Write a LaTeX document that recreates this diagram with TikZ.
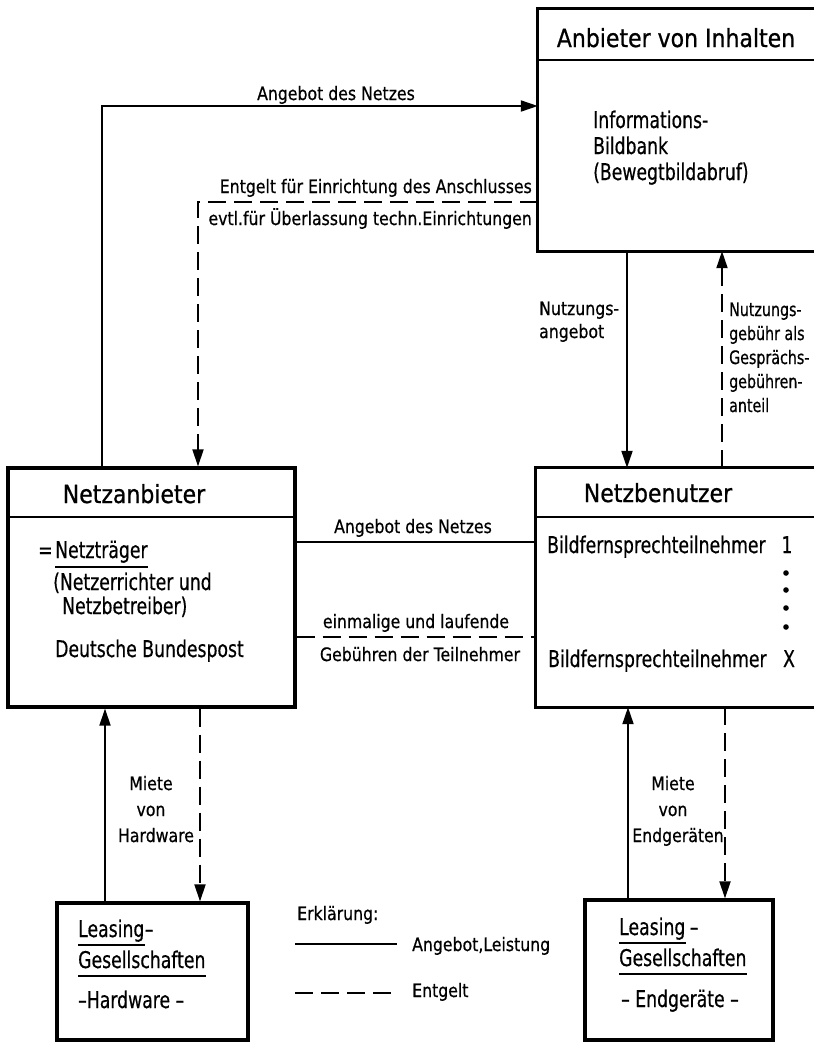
\documentclass[tikz,border=0pt]{standalone}
\usepackage{fontspec}
\setmainfont{DejaVu Sans}
\newfontfamily\titlefont{DejaVu Sans}[FakeStretch=0.88,FakeBold=0.8]
\newfontfamily\bodyfont{DejaVu Sans}[FakeStretch=0.75,FakeBold=0.5]
\newfontfamily\labelfont{DejaVu Sans}[FakeStretch=0.85,FakeBold=0.6]
\newfontfamily\narrowfont{DejaVu Sans}[FakeStretch=0.77,FakeBold=0.6]
\usetikzlibrary{arrows.meta}

\begin{document}
\begin{tikzpicture}[x=1pt,y=-1pt,
  box/.style={draw,line width=3.2pt,rectangle,inner sep=0pt},
  openbox/.style={rectangle,inner sep=0pt},
  boxline/.style={line width=3.2pt},
  rule/.style={line width=2.4pt},
  offer/.style={line width=1.9pt},
  pay/.style={line width=1.9pt,dash pattern=on 18pt off 8pt},
  tip/.style={-{Triangle[length=17pt,width=11pt]}},
  ul/.style={line width=1.8pt},
  ttl/.style={font=\titlefont\fontsize{25}{30}\selectfont,inner sep=0pt,anchor=base},
  txt/.style={font=\bodyfont\fontsize{23}{28}\selectfont,inner sep=0pt,anchor=base west},
  lbl/.style={font=\labelfont\fontsize{18.5}{22}\selectfont,inner sep=0pt,anchor=base},
  nlbl/.style={font=\narrowfont\fontsize{18.5}{22}\selectfont,inner sep=0pt,anchor=base west},
]
\useasboundingbox (0,0) rectangle (814,1042);
\clip (0,0) rectangle (814,1042);

% ---------- boxes (the right-hand column runs off the sheet) ----------
\node[openbox,minimum width=292pt,minimum height=242pt] (inh)  at (684,130)   {};
\node[box,minimum width=287pt,minimum height=239pt]     (anb)  at (151.5,587.5) {};
\node[openbox,minimum width=294pt,minimum height=239pt] (nutz) at (683,587.5) {};
\node[box,minimum width=191pt,minimum height=137pt]     (lh)   at (152.5,971.5) {};
\node[box,minimum width=188pt,minimum height=140pt]     (le)   at (679,970)   {};
\draw[boxline] (inh.north east) -- (inh.north west) -- (inh.south west) -- (inh.south east);
\draw[boxline] (nutz.north east) -- (nutz.north west) -- (nutz.south west) -- (nutz.south east);

% header rules
\coordinate (yInhDiv) at (0,60);
\coordinate (yMidDiv) at (0,517);
\draw[rule] (inh.west |- yInhDiv) -- (inh.east |- yInhDiv);
\draw[rule] (anb.west |- yMidDiv) -- (anb.east |- yMidDiv);
\draw[rule] (nutz.west |- yMidDiv) -- (nutz.east |- yMidDiv);

% ---------- routing points ----------
\coordinate (cTopOffer) at (102,106);
\coordinate (cTopPay)   at (198,202);
\coordinate (xUseOffer) at (627,0);
\coordinate (xUsePay)   at (722,0);
\coordinate (yMidOffer) at (0,542);
\coordinate (yMidPay)   at (0,637);
\coordinate (xHwOffer)  at (105,0);
\coordinate (xHwPay)    at (200,0);
\coordinate (xEgOffer)  at (628,0);
\coordinate (xEgPay)    at (725,0);

% ---------- connectors ----------
\draw[offer,tip] (cTopOffer |- anb.north) -- (cTopOffer) -- (cTopOffer -| inh.west);
\draw[pay,tip]   (cTopPay -| inh.west) -- (cTopPay) -- (cTopPay |- anb.north);
\draw[offer,tip] (xUseOffer |- inh.south) -- (xUseOffer |- nutz.north);
\draw[pay,tip]   (xUsePay |- nutz.north) -- (xUsePay |- inh.south);
\draw[offer]     (anb.east |- yMidOffer) -- (nutz.west |- yMidOffer);
\draw[pay]       (anb.east |- yMidPay) -- (nutz.west |- yMidPay);
\draw[offer,tip] (xHwOffer |- lh.north) -- (xHwOffer |- anb.south);
\draw[pay,tip]   (xHwPay |- anb.south) -- (xHwPay |- lh.north);
\draw[offer,tip] (xEgOffer |- le.north) -- (xEgOffer |- nutz.south);
\draw[pay,tip]   (xEgPay |- nutz.south) -- (xEgPay |- le.north);

% ---------- content provider ----------
\node[ttl] (tInh) at (676,47) {Anbieter von Inhalten};
\node[txt] (i1) at (593,128) {Informations-};
\node[txt] (i2) at (593,154) {Bildbank};
\node[txt] (i3) at (593,180) {(Bewegtbildabruf)};

% ---------- network provider ----------
\node[ttl] (tAnb) at (134,503) {Netzanbieter};
\node[txt] (nEq) at (38,558) {=};
\node[txt] (nT)  at (55,558) {Netzträger};
\draw[ul] ([yshift=-9pt]nT.base west) -- ([yshift=-9pt]nT.base east);
\node[txt] (n2) at (53,590) {(Netzerrichter und};
\node[txt] (n3) at (62,614) {Netzbetreiber)};
\node[txt] (n4) at (55,657) {Deutsche Bundespost};

% ---------- network users ----------
\node[ttl] (tNutz) at (658,502) {Netzbenutzer};
\node[txt] (b1) at (547,553) {Bildfernsprechteilnehmer};
\node[txt,anchor=base] (b1n) at (787,553) {1};
\foreach \yy in {573,590,608,627} \fill (786,\yy) circle (2.8pt);
\node[txt] (bx) at (548,667) {Bildfernsprechteilnehmer};
\node[txt,anchor=base] (bxn) at (789,667) {X};

% ---------- connector labels ----------
\node[lbl] (aTop) at (336,100) {Angebot des Netzes};
\node[lbl,anchor=base east] (pTop1) at (532,193) {Entgelt für Einrichtung des Anschlusses};
\node[lbl,anchor=base east] (pTop2) at (532,225) {evtl.für Überlassung techn.Einrichtungen};

\node[lbl,anchor=base west] (u1) at (539,315) {Nutzungs-};
\node[lbl,anchor=base west] (u2) at (539,338) {angebot};

\node[nlbl] (g1) at (729,316) {Nutzungs-};
\node[nlbl] (g2) at (729,340) {gebühr als};
\node[nlbl] (g3) at (729,364) {Gesprächs-};
\node[nlbl] (g4) at (729,388) {gebühren-};
\node[nlbl] (g5) at (729,412) {anteil};

\node[lbl] (aMid) at (413,533) {Angebot des Netzes};
\node[lbl] (pMid1) at (416,628) {einmalige und laufende};
\node[lbl] (pMid2) at (420,661) {Gebühren der Teilnehmer};

\node[lbl] (hw1) at (151,790) {Miete};
\node[lbl] (hw2) at (151,816) {von};
\node[lbl] (hw3) at (156,842) {Hardware};

\node[lbl] (eg1) at (673,790) {Miete};
\node[lbl] (eg2) at (673,816) {von};
\node[lbl] (eg3) at (678,842) {Endgeräten};

% ---------- leasing companies ----------
\node[txt] (l1) at (78,937) {Leasing};
\node[txt] (l1d) at (l1.base east) {–};
\draw[ul] ([yshift=-8pt]l1.base west) -- ([yshift=-8pt]l1.base east);
\node[txt] (l2) at (78,968) {Gesellschaften};
\draw[ul] ([yshift=-8pt]l2.base west) -- ([yshift=-8pt]l2.base east);
\node[txt] (l3) at (78,1008) {–Hardware –};

\node[txt] (r1) at (619,935) {Leasing};
\node[txt] (r1d) at ([xshift=4pt]r1.base east) {–};
\draw[ul] ([yshift=-8pt]r1.base west) -- ([yshift=-8pt]r1.base east);
\node[txt] (r2) at (619,966) {Gesellschaften};
\draw[ul] ([yshift=-8pt]r2.base west) -- ([yshift=-8pt]r2.base east);
\node[txt] (r3) at (621,1007) {– Endgeräte –};

% ---------- legend ----------
\node[lbl,anchor=base west] (key) at (297,920) {Erklärung:};
\coordinate (kA1) at (295,944);
\coordinate (kA2) at (397,944);
\coordinate (kB1) at (295,993);
\coordinate (kB2) at (397,993);
\draw[offer] (kA1) -- (kA2);
\draw[pay]   (kB1) -- (kB2);
\node[lbl,anchor=base west] (keyA) at (412,951) {Angebot,Leistung};
\node[lbl,anchor=base west] (keyB) at (412,997) {Entgelt};
\end{tikzpicture}
\end{document}
